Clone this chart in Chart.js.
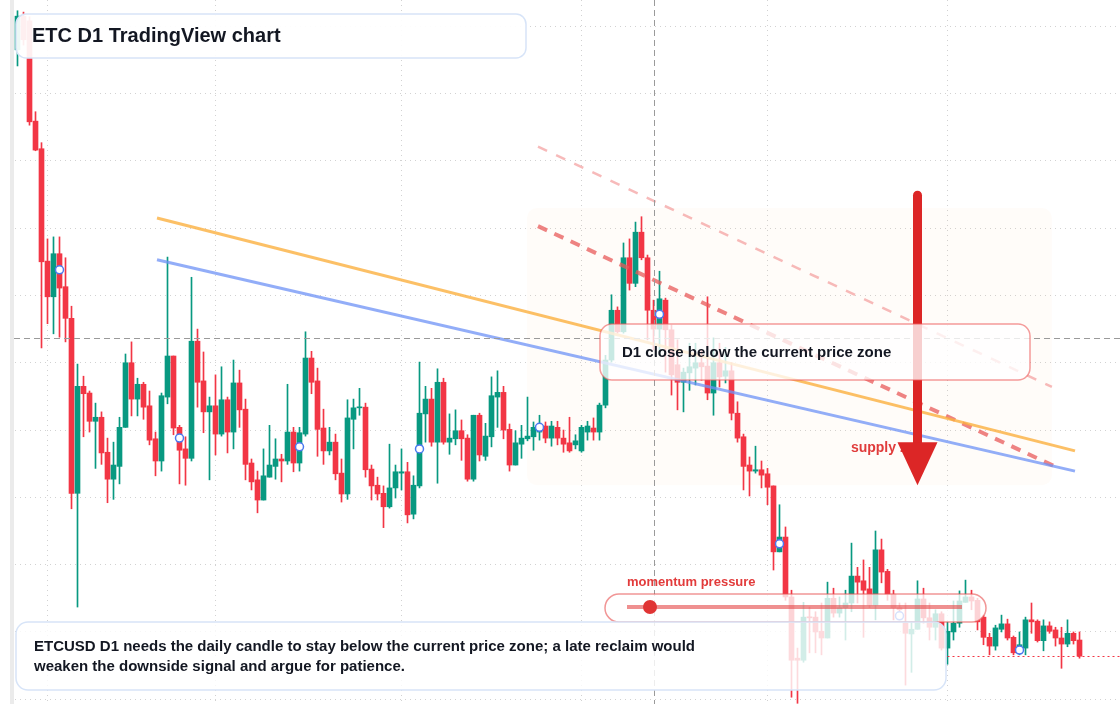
<!DOCTYPE html>
<html>
<head>
<meta charset="utf-8">
<title>ETC D1 TradingView chart</title>
<script src="https://cdn.jsdelivr.net/npm/chart.js@4.4.1/dist/chart.umd.min.js"></script>
<style>
  html, body { margin: 0; padding: 0; background: #fff; }
  #wrap { width: 1120px; height: 704px; }
</style>
</head>
<body>
<div id="wrap"><canvas id="etcChart" width="1120" height="704"></canvas></div>
<script>
// ETCUSD daily candles (index 0 = first visible day)
const opens = [
  27.65, 28.15, 28.08, 26.59, 26.18, 24.51, 23.98, 24.62, 24.13, 23.66,
  21.06, 22.65, 22.55, 22.13, 22.19, 21.67, 21.27, 21.46, 22.04, 23.00,
  22.46, 22.68, 22.36, 21.87, 21.54, 22.49, 23.10, 22.04, 21.72, 21.58,
  23.32, 22.73, 22.27, 22.36, 21.94, 22.45, 21.97, 22.70, 22.31, 21.51,
  21.26, 20.96, 21.30, 21.46, 21.57, 21.54, 21.97, 21.51, 21.94, 23.07,
  22.73, 22.03, 21.69, 21.82, 21.36, 21.05, 22.16, 22.33, 22.34, 21.42,
  21.18, 21.06, 20.86, 21.14, 21.36, 21.38, 20.75, 21.17, 22.24, 22.46,
  21.82, 22.71, 21.82, 21.87, 21.99, 21.88, 21.27, 22.22, 21.61, 21.90,
  22.49, 22.56, 22.01, 21.48, 21.79, 21.87, 21.90, 21.97, 22.06, 21.88,
  22.04, 21.88, 21.81, 21.78, 21.69, 21.97, 22.03, 21.97, 22.37, 23.04,
  23.78, 23.46, 24.56, 24.18, 24.94, 24.56, 23.78, 23.50, 23.93, 23.49,
  22.97, 22.71, 22.85, 22.92, 23.00, 22.95, 22.55, 23.00, 22.80, 22.88,
  22.25, 21.90, 21.48, 21.39, 21.41, 21.35, 21.17, 20.19, 20.41, 19.52,
  18.61, 18.58, 19.22, 19.22, 19.01, 18.91, 19.50, 19.28, 19.36, 19.43,
  19.83, 19.76, 19.64, 19.40, 20.22, 19.90, 19.56, 19.36, 19.13, 18.97,
  19.04, 19.49, 19.21, 19.07, 19.27, 18.76, 19.00, 19.13, 19.44, 19.52,
  19.47, 19.22, 18.92, 18.79, 19.04, 19.12, 18.92, 18.69, 18.76, 19.18,
  19.16, 18.87, 19.09, 19.03, 18.91, 18.82, 18.98, 18.88
];
const highs = [
  28.23, 28.21, 28.14, 26.73, 26.27, 24.84, 24.87, 24.87, 24.56, 23.84,
  22.98, 22.80, 22.58, 22.40, 22.27, 21.88, 21.82, 22.19, 23.13, 23.31,
  22.77, 22.71, 22.58, 21.97, 22.55, 24.57, 23.10, 22.07, 21.90, 24.27,
  23.50, 23.16, 22.49, 22.82, 22.94, 22.49, 23.04, 22.89, 22.46, 21.57,
  21.39, 21.72, 22.07, 21.87, 21.64, 22.68, 22.04, 22.04, 23.46, 23.17,
  22.92, 22.31, 22.04, 21.94, 21.57, 22.45, 22.46, 22.62, 22.40, 21.48,
  21.30, 21.17, 21.79, 21.48, 21.72, 21.52, 21.32, 23.01, 22.65, 22.62,
  22.91, 22.77, 22.24, 22.30, 22.15, 21.93, 22.22, 22.25, 22.10, 22.79,
  22.88, 22.65, 22.09, 21.99, 22.07, 22.49, 22.12, 22.22, 22.12, 22.13,
  22.13, 22.00, 22.19, 21.93, 22.07, 22.13, 22.18, 22.40, 23.11, 24.01,
  23.83, 24.78, 24.84, 25.09, 25.17, 24.60, 23.93, 24.36, 23.96, 23.56,
  23.34, 22.92, 23.29, 23.29, 23.19, 23.98, 23.37, 23.29, 23.23, 23.00,
  22.42, 21.94, 21.60, 21.76, 21.54, 21.43, 21.17, 20.89, 20.56, 19.62,
  18.76, 19.44, 19.37, 19.30, 19.43, 19.74, 19.65, 19.52, 19.62, 20.32,
  19.96, 20.07, 19.96, 20.50, 20.38, 19.93, 19.62, 19.43, 19.43, 19.15,
  19.76, 19.65, 19.43, 19.33, 19.30, 19.15, 19.46, 19.61, 19.77, 19.62,
  19.50, 19.25, 18.98, 19.10, 19.25, 19.19, 18.94, 19.00, 19.22, 19.43,
  19.18, 19.18, 19.15, 19.07, 19.07, 19.18, 19.00, 19.00
];
const lows = [
  27.41, 27.72, 26.53, 26.15, 23.22, 23.58, 23.43, 23.38, 23.31, 20.83,
  19.37, 21.90, 21.97, 21.43, 21.49, 20.92, 20.97, 21.20, 22.04, 22.21,
  22.21, 22.16, 21.78, 21.32, 21.39, 22.39, 21.93, 21.20, 21.18, 21.54,
  22.34, 21.96, 21.26, 21.63, 21.91, 21.66, 21.72, 22.04, 21.26, 21.11,
  20.77, 20.96, 21.30, 21.27, 21.23, 21.49, 21.38, 21.39, 21.91, 22.54,
  21.61, 21.49, 21.63, 21.26, 20.93, 20.97, 21.72, 22.22, 21.30, 20.96,
  20.96, 20.55, 20.84, 20.99, 21.11, 20.62, 20.68, 21.14, 21.82, 21.76,
  21.21, 21.79, 21.64, 21.78, 21.55, 21.24, 21.24, 21.54, 21.55, 21.75,
  22.04, 21.87, 21.39, 21.48, 21.58, 21.84, 21.70, 21.85, 21.81, 21.76,
  21.78, 21.67, 21.67, 21.72, 21.67, 21.85, 21.85, 21.85, 22.33, 23.01,
  23.44, 23.44, 24.08, 24.13, 24.53, 23.34, 23.19, 23.11, 22.86, 22.52,
  22.30, 22.27, 22.59, 22.67, 22.74, 22.45, 22.22, 22.64, 22.70, 22.15,
  21.82, 21.11, 21.02, 21.36, 21.14, 20.89, 19.92, 20.19, 19.47, 18.03,
  17.94, 18.55, 18.69, 18.69, 18.66, 18.91, 19.22, 19.22, 18.88, 19.30,
  19.43, 18.92, 19.36, 19.18, 19.73, 19.47, 19.18, 19.18, 18.21, 18.40,
  19.04, 19.13, 18.88, 18.88, 18.73, 18.52, 18.88, 19.07, 19.44, 19.33,
  19.03, 18.81, 18.66, 18.73, 19.00, 18.88, 18.66, 18.66, 18.66, 18.98,
  18.85, 18.72, 18.98, 18.79, 18.46, 18.78, 18.82, 18.61
];
const closes = [
  28.15, 27.80, 26.58, 26.16, 24.50, 23.98, 24.62, 24.11, 23.66, 21.06,
  22.65, 22.54, 22.13, 22.19, 21.66, 21.27, 21.48, 22.04, 23.00, 22.46,
  22.68, 22.34, 21.85, 21.54, 22.51, 23.10, 22.03, 21.70, 21.58, 23.32,
  22.71, 22.27, 22.36, 21.94, 22.45, 21.97, 22.70, 22.30, 21.49, 21.23,
  20.96, 21.32, 21.48, 21.57, 21.54, 21.97, 21.51, 21.96, 23.07, 22.71,
  22.01, 21.69, 21.82, 21.35, 21.05, 22.18, 22.33, 22.34, 21.41, 21.17,
  21.05, 20.86, 21.14, 21.38, 21.38, 20.74, 21.18, 22.25, 22.46, 21.82,
  22.71, 21.82, 21.88, 21.99, 21.87, 21.27, 22.22, 21.63, 21.91, 22.51,
  22.56, 22.00, 21.48, 21.81, 21.88, 21.91, 22.04, 22.04, 21.88, 22.06,
  21.88, 21.79, 21.69, 21.84, 22.04, 22.06, 21.97, 22.37, 23.04, 23.78,
  23.46, 24.56, 24.18, 24.94, 24.56, 23.78, 23.50, 23.95, 23.49, 22.82,
  22.71, 22.86, 22.94, 23.00, 22.94, 22.55, 23.00, 22.79, 22.88, 22.25,
  21.88, 21.46, 21.39, 21.41, 21.33, 21.15, 20.19, 20.41, 19.52, 18.58,
  18.58, 19.22, 19.21, 19.00, 18.91, 19.50, 19.28, 19.36, 19.43, 19.83,
  19.74, 19.62, 19.40, 20.22, 19.89, 19.56, 19.36, 19.33, 18.98, 19.04,
  19.49, 19.21, 19.07, 19.27, 18.76, 19.01, 19.13, 19.46, 19.52, 19.46,
  19.15, 18.92, 18.79, 19.06, 19.12, 18.91, 18.69, 18.81, 19.18, 19.15,
  18.87, 19.09, 19.01, 18.91, 18.82, 18.98, 18.87, 18.64
];

// blue circle markers
const markerIdx = [7, 27, 47, 67, 87, 107, 127, 147, 167];
const markerPrice = [24.38, 21.88, 21.75, 21.72, 22.04, 23.72, 20.31, 19.24, 18.73];

// month boundaries (candle index) for the vertical grid
const monthStarts = [5, 33, 64, 94, 125, 155];

// drawn lines: [start index, end index], [start price, end price]
const orangeX = [23.25, 176.25], orangeY = [25.15, 21.69];
const blueX = [23.25, 176.25], blueY = [24.53, 21.39];
const redX = [86.75, 172.9], redY = [25.03, 21.46];
const paleRedX = [86.75, 172.4], paleRedY = [26.21, 22.64];

// supply zone and arrow
const zoneX = [84.92, 172.4], zoneTop = 25.30, zoneBottom = 21.18;
const arrowIdx = 150, arrowTop = 25.49, arrowHeadBase = 21.82, arrowTip = 21.18;
const supplyLabelIdx = 138.9, supplyLabelPrice = 21.73;
const crossIdx = 106, crossPrice = 23.37;
const priceLineFromIdx = 155;

const GREEN = '#089981', RED = '#f23645';
const FONT = '"Liberation Sans", Arial, sans-serif';

const idx = opens.map((_, i) => i);
const candleColors = idx.map(i => closes[i] >= opens[i] ? GREEN : RED);

function roundBox(ctx, x, y, w, h, r) {
  ctx.beginPath();
  ctx.moveTo(x + r, y);
  ctx.arcTo(x + w, y, x + w, y + h, r);
  ctx.arcTo(x + w, y + h, x, y + h, r);
  ctx.arcTo(x, y + h, x, y, r);
  ctx.arcTo(x, y, x + w, y, r);
  ctx.closePath();
}

function panel(ctx, x, y, w, h, r, fill, stroke) {
  roundBox(ctx, x, y, w, h, r);
  ctx.fillStyle = fill;
  ctx.fill();
  ctx.lineWidth = 1.5;
  ctx.strokeStyle = stroke;
  ctx.stroke();
}

const overlay = {
  id: 'overlay',
  beforeDatasetsDraw(chart) {
    const { ctx, scales: { x, y } } = chart;
    ctx.save();
    ctx.fillStyle = '#ffffff';
    ctx.fillRect(0, 0, 10, chart.height);
    ctx.fillStyle = '#ebebeb';
    ctx.fillRect(10, 0, 4, chart.height);
    // supply zone
    const zx0 = x.getPixelForValue(zoneX[0]);
    const zx1 = x.getPixelForValue(zoneX[1]);
    const zy0 = y.getPixelForValue(zoneTop);
    const zy1 = y.getPixelForValue(zoneBottom);
    roundBox(ctx, zx0, zy0, zx1 - zx0, zy1 - zy0, 10);
    ctx.fillStyle = 'rgba(250, 200, 160, 0.06)';
    ctx.fill();
    ctx.restore();
  },
  afterDatasetsDraw(chart) {
    const { ctx, scales: { x, y } } = chart;
    const W = chart.width, H = chart.height;
    ctx.save();

    // crosshair
    ctx.lineWidth = 1;
    ctx.strokeStyle = '#9a9a9a';
    ctx.setLineDash([6, 4]);
    const cy = Math.round(y.getPixelForValue(crossPrice)) + 0.5;
    const cx = Math.round(x.getPixelForValue(crossIdx)) + 0.5;
    ctx.beginPath();
    ctx.moveTo(14, cy); ctx.lineTo(W, cy);
    ctx.moveTo(cx, 0); ctx.lineTo(cx, H);
    ctx.stroke();

    // last price line
    ctx.strokeStyle = RED;
    ctx.setLineDash([2, 3]);
    const py = Math.round(y.getPixelForValue(closes[closes.length - 1])) + 0.5;
    ctx.beginPath();
    ctx.moveTo(x.getPixelForValue(priceLineFromIdx), py); ctx.lineTo(W, py);
    ctx.stroke();
    ctx.setLineDash([]);

    // supply zone label
    ctx.font = 'bold 14px ' + FONT;
    ctx.fillStyle = '#e03c3c';
    ctx.textBaseline = 'middle';
    ctx.fillText('supply zone', x.getPixelForValue(supplyLabelIdx), y.getPixelForValue(supplyLabelPrice));

    // down arrow
    const ax = x.getPixelForValue(arrowIdx);
    const aTop = y.getPixelForValue(arrowTop);
    const aBase = y.getPixelForValue(arrowHeadBase);
    const aTip = y.getPixelForValue(arrowTip);
    ctx.strokeStyle = '#dc2626';
    ctx.lineWidth = 9;
    ctx.lineCap = 'round';
    ctx.beginPath();
    ctx.moveTo(ax, aTop); ctx.lineTo(ax, aBase + 2);
    ctx.stroke();
    ctx.lineCap = 'butt';
    ctx.fillStyle = '#dc2626';
    ctx.beginPath();
    ctx.moveTo(ax - 20, aBase); ctx.lineTo(ax + 20, aBase); ctx.lineTo(ax, aTip);
    ctx.closePath();
    ctx.fill();

    // title
    panel(ctx, 16, 14, 510, 44, 10, 'rgba(255,255,255,0.92)', '#d7e4f8');
    ctx.fillStyle = '#131722';
    ctx.font = 'bold 20px ' + FONT;
    ctx.fillText('ETC D1 TradingView chart', 32, 36);

    // signal note
    panel(ctx, 600, 324, 430, 56, 12, 'rgba(255,255,255,0.78)', 'rgba(236,90,90,0.6)');
    ctx.fillStyle = '#131722';
    ctx.font = 'bold 15px ' + FONT;
    ctx.fillText('D1 close below the current price zone', 622, 353);

    // momentum gauge
    ctx.font = 'bold 13px ' + FONT;
    ctx.fillStyle = '#e23b3b';
    ctx.fillText('momentum pressure', 627, 582);
    panel(ctx, 605, 594, 381, 28, 14, 'rgba(255,255,255,0.78)', 'rgba(232,80,80,0.6)');
    ctx.strokeStyle = 'rgba(228,70,70,0.6)';
    ctx.lineWidth = 4;
    ctx.beginPath();
    ctx.moveTo(627, 607); ctx.lineTo(962, 607);
    ctx.stroke();
    ctx.fillStyle = '#e03434';
    ctx.beginPath();
    ctx.arc(650, 607, 7, 0, Math.PI * 2);
    ctx.fill();

    // bottom commentary
    panel(ctx, 16, 622, 930, 68, 12, 'rgba(255,255,255,0.82)', '#d7e4f8');
    ctx.fillStyle = '#131722';
    ctx.font = 'bold 15px ' + FONT;
    ctx.fillText('ETCUSD D1 needs the daily candle to stay below the current price zone; a late reclaim would', 34, 647);
    ctx.fillText('weaken the downside signal and argue for patience.', 34, 667);

    ctx.restore();
  }
};

function trend(xs, ys, color, width, dash) {
  return {
    type: 'line',
    data: [{ x: xs[0], y: ys[0] }, { x: xs[1], y: ys[1] }],
    borderColor: color,
    borderWidth: width,
    borderDash: dash,
    pointRadius: 0,
    fill: false,
    order: 1
  };
}

const xMin = -17.5 / 6;
const xMax = xMin + 1120 / 6;
const yMax = 28.39;
const yMin = 28.39 - 704 / 67.3;

new Chart(document.getElementById('etcChart'), {
  type: 'bar',
  data: {
    datasets: [
      {
        type: 'line',
        data: markerIdx.map((v, k) => ({ x: v, y: markerPrice[k] })),
        showLine: false,
        pointRadius: 4,
        pointBorderWidth: 1.5,
        pointBackgroundColor: '#ffffff',
        pointBorderColor: '#4a78f0',
        order: 0
      },
      trend(orangeX, orangeY, 'rgba(251,176,64,0.8)', 3, []),
      trend(blueX, blueY, 'rgba(110,145,245,0.75)', 3, []),
      trend(redX, redY, 'rgba(232,90,90,0.75)', 4, [10, 8]),
      trend(paleRedX, paleRedY, 'rgba(240,130,130,0.55)', 2.5, [10, 10]),
      {
        data: idx.map(i => ({ x: i, y: [opens[i], closes[i]] })),
        backgroundColor: candleColors,
        barThickness: 5,
        minBarLength: 1,
        grouped: false,
        borderWidth: 0,
        order: 2
      },
      {
        data: idx.map(i => ({ x: i, y: [lows[i], highs[i]] })),
        backgroundColor: candleColors,
        barThickness: 1,
        grouped: false,
        borderWidth: 0,
        order: 3
      }
    ]
  },
  options: {
    responsive: false,
    animation: false,
    devicePixelRatio: 1,
    layout: { padding: 0, autoPadding: false },
    plugins: { legend: { display: false }, tooltip: { enabled: false } },
    scales: {
      x: {
        type: 'linear',
        min: xMin,
        max: xMax,
        offset: false,
        grid: { color: '#d2d2d2', drawTicks: false, offset: false },
        border: { display: false, dash: [1, 4] },
        ticks: { display: false },
        afterBuildTicks: s => { s.ticks = monthStarts.map(v => ({ value: v })); }
      },
      y: {
        min: yMin,
        max: yMax,
        grid: { color: '#d2d2d2', drawTicks: false },
        border: { display: false, dash: [1, 4] },
        ticks: { display: false, stepSize: 1, includeBounds: false }
      }
    }
  },
  plugins: [overlay]
});
</script>
</body>
</html>
